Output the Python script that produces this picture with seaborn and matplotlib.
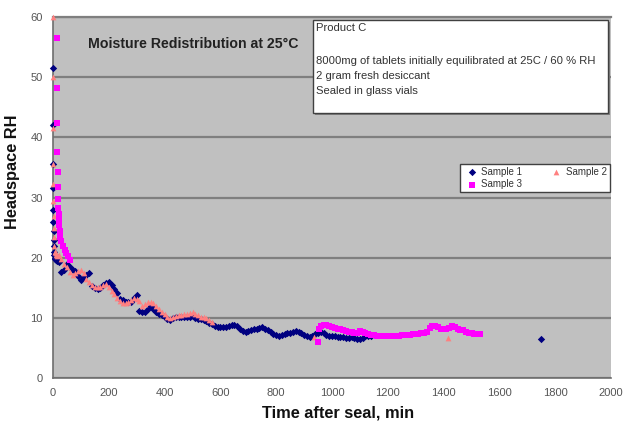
import matplotlib
matplotlib.use("Agg")
import matplotlib.pyplot as plt
import seaborn as sns
import pandas as pd
from matplotlib.patches import Rectangle

# ---------------- data ----------------
s1_t = [0, 0, 0, 0, 1, 1, 2, 2, 3, 4, 5, 6, 8, 10, 12, 15,
        20, 30, 40, 50, 60, 70, 80, 90, 100, 110, 120, 130, 140, 150, 160, 170, 180, 190,
        200, 210, 220, 230, 240, 250, 260, 270, 280, 290, 300, 310, 320, 330, 340, 350,
        360, 370, 380, 390, 400, 410, 420, 430, 440, 450, 460, 470, 480, 490, 500, 510,
        520, 530, 540, 550, 560, 570, 580, 590, 600, 610, 620, 630, 640, 650, 660, 670,
        680, 690, 700, 710, 720, 730, 740, 750, 760, 770, 780, 790, 800, 810, 820, 830,
        840, 850, 860, 870, 880, 890, 900, 910, 920, 930, 940, 950, 960, 970, 980, 990,
        1000, 1010, 1020, 1030, 1040, 1050, 1060, 1070, 1080, 1090, 1100, 1110, 1120,
        1130, 1140, 1750]
s1_rh = [51.5, 42.0, 35.5, 31.5, 28.0, 26.0, 24.5, 23.0, 22.0, 21.0, 20.5, 20.0, 19.8, 20.2, 19.6, 19.5,
         19.2, 17.7, 18.0, 19.0, 18.5, 18.0, 17.8, 17.0, 16.3, 16.8, 17.2, 17.4, 15.3, 14.9, 14.8, 15.0, 15.4, 15.8,
         15.9, 15.4, 14.8, 14.2, 13.2, 12.9, 12.7, 12.6, 12.7, 13.3, 13.8, 11.2, 11.0, 10.9, 11.4, 11.9,
         11.4, 10.9, 10.6, 10.4, 10.2, 9.8, 9.6, 9.9, 10.2, 10.2, 10.1, 10.1, 10.1, 10.2, 10.3, 10.0,
         9.8, 9.8, 9.7, 9.5, 9.2, 8.9, 8.7, 8.5, 8.5, 8.4, 8.4, 8.6, 8.8, 8.8, 8.6, 8.2,
         7.8, 7.6, 7.8, 8.0, 8.1, 8.2, 8.3, 8.4, 8.2, 7.9, 7.6, 7.3, 7.1, 7.0, 7.2, 7.3,
         7.4, 7.5, 7.7, 7.8, 7.7, 7.4, 7.2, 7.0, 6.8, 6.9, 7.3, 7.5, 7.6, 7.4, 7.2, 7.0,
         7.0, 6.9, 6.8, 6.8, 6.8, 6.7, 6.7, 6.8, 6.7, 6.5, 6.4, 6.7, 6.9,
         6.9, 7.0, 6.5]

s2_t = [0, 0, 0, 0, 1, 1, 2, 3, 4, 5, 6, 8, 10, 12, 15,
        20, 30, 40, 50, 60, 70, 80, 90, 100, 110, 120, 130, 140, 150, 160, 170, 180, 190,
        200, 210, 220, 230, 240, 250, 260, 270, 280, 290, 300, 310, 320, 330, 340, 350,
        360, 370, 380, 390, 400, 410, 420, 430, 440, 450, 460, 470, 480, 490, 500, 510,
        520, 530, 540, 550, 560, 570, 935, 1415]
s2_rh = [60.0, 50.0, 41.5, 35.5, 32.3, 29.5, 27.0, 25.0, 23.5, 22.0, 21.0, 21.0, 20.5, 20.8, 20.2,
         20.5, 19.8, 19.0, 18.5, 17.6, 17.2, 17.5, 17.8, 18.0, 17.4, 16.5, 16.0, 15.4, 15.2, 15.1, 15.2, 15.4, 15.6,
         15.2, 14.5, 14.0, 13.3, 12.8, 12.5, 12.4, 12.6, 13.0, 13.3, 13.2, 12.8, 12.0, 12.3, 12.6, 12.7,
         12.5, 12.0, 11.5, 11.0, 10.6, 10.2, 10.0, 10.2, 10.3, 10.4, 10.5, 10.6, 10.6, 10.8, 11.0, 10.7,
         10.4, 10.2, 10.1, 9.9, 9.6, 9.3, 6.8, 6.7]

s3_t = [13, 14, 15, 16, 17, 18, 18, 19, 20, 21, 22, 24, 26, 30, 36, 42, 48, 54, 62,
        950, 955, 960, 970, 980, 990, 1000, 1010, 1020, 1030, 1040, 1050, 1060, 1070, 1080,
        1090, 1100, 1110, 1120, 1130, 1140, 1150, 1160, 1170, 1180, 1190, 1200, 1210, 1220,
        1230, 1240, 1250, 1260, 1270, 1280, 1290, 1300, 1310, 1320, 1330, 1340, 1350, 1360,
        1370, 1380, 1390, 1400, 1410, 1420, 1430, 1440, 1450, 1460, 1470, 1480, 1490, 1500,
        1510, 1520, 1530]
s3_rh = [56.5, 48.2, 42.3, 37.5, 34.3, 31.7, 29.8, 28.3, 27.3, 26.3, 25.5, 24.5, 23.5, 22.8, 22.0, 21.3, 20.8, 20.3, 19.6,
         6.0, 8.2, 8.6, 8.8, 8.8, 8.6, 8.5, 8.3, 8.2, 8.2, 7.9, 7.8, 7.7, 7.6, 7.5,
         7.5, 7.8, 7.7, 7.4, 7.3, 7.2, 7.1, 7.0, 7.0, 7.0, 6.9, 6.9, 6.9, 6.9,
         6.9, 7.0, 7.2, 7.2, 7.1, 7.2, 7.3, 7.3, 7.3, 7.4, 7.4, 7.6, 8.3, 8.6,
         8.6, 8.5, 8.2, 8.2, 8.2, 8.3, 8.6, 8.5, 8.1, 7.9, 7.9, 7.7, 7.5, 7.4,
         7.3, 7.3, 7.3]

series_names = ["Sample 1", "Sample 2", "Sample 3"]
x_ticks = [0, 200, 400, 600, 800, 1000, 1200, 1400, 1600, 1800, 2000]
y_ticks = [0, 10, 20, 30, 40, 50, 60]
title_text = "Moisture Redistribution at 25°C"
note_lines = ["Product C", "8000mg of tablets initially equilibrated at 25C / 60 % RH",
              "2 gram fresh desiccant", "Sealed in glass vials"]

# ---------------- plot ----------------
sns.set_style("white")
plt.rcParams["font.family"] = ["Liberation Sans", "DejaVu Sans"]

W, H = 624, 425
fig = plt.figure(figsize=(W / 100, H / 100), dpi=100)
ax = fig.add_axes([53 / W, 1 - 378 / H, 558 / W, 361 / H])
ax.set_facecolor("#C0C0C0")

styles = [
    (s1_t, s1_rh, "#000080", "D", 14),
    (s2_t, s2_rh, "#FF8080", "^", 17),
    (s3_t, s3_rh, "#FF00FF", "s", 15),
]
for name, (tx, ry, col, mk, sz) in zip(series_names, styles):
    df = pd.DataFrame({"t": tx, "rh": ry})
    sns.scatterplot(data=df, x="t", y="rh", ax=ax, color=col, marker=mk, s=sz,
                    linewidth=0, label=name, zorder=3, clip_on=False)

ax.set_xlim(0, 2000)
ax.set_ylim(0, 60)
ax.set_xticks(x_ticks)
ax.set_yticks(y_ticks)
ax.yaxis.grid(True, color="#7F7F7F", linewidth=1.6)
ax.xaxis.grid(False)
ax.set_axisbelow(True)

ax.spines["right"].set_visible(False)
ax.spines["top"].set_color("#7F7F7F")
ax.spines["top"].set_linewidth(1.6)
for side in ["left", "bottom"]:
    ax.spines[side].set_color("#6E6E6E")
    ax.spines[side].set_linewidth(1.2)

ax.tick_params(axis="both", which="major", direction="out", length=4, width=1,
               color="#6E6E6E", labelsize=8, labelcolor="#555555")
ax.tick_params(axis="x", pad=3)

ax.set_xlabel("")
ax.set_ylabel("")
fig.text(338 / W, 1 - 413 / H, "Time after seal, min", ha="center", va="center",
         fontsize=11.8, fontweight="bold", color="#111111")
fig.text(13 / W, 1 - 172 / H, "Headspace RH", ha="center", va="center", rotation=90,
         fontsize=11.8, fontweight="bold", color="#111111")

ax.text(0.252, 0.925, title_text, transform=ax.transAxes, ha="center", va="center",
        fontsize=10.2, fontweight="bold", color="#222222")

# note box
x0, x1 = (313 - 53) / 558, (608 - 53) / 558
yb, yt = 1 - (113 - 17) / 361, 1 - (20 - 17) / 361
shadow = Rectangle((x0 + 0.004, yb - 0.006), x1 - x0, yt - yb, transform=ax.transAxes,
                   facecolor="#808080", edgecolor="none", zorder=4, clip_on=False)
box = Rectangle((x0, yb), x1 - x0, yt - yb, transform=ax.transAxes,
                facecolor="white", edgecolor="#404040", linewidth=1, zorder=5, clip_on=False)
ax.add_patch(shadow)
ax.add_patch(box)
for line, ypx in zip(note_lines, [28, 61, 76, 91]):
    fig.text(316 / W, 1 - ypx / H, line, ha="left", va="center",
             fontsize=8.1, color="#333333", zorder=6)

handles, labels = ax.get_legend_handles_labels()
order = [0, 2, 1]
lx0, lx1 = (460 - 53) / 558, (610 - 53) / 558
ly0, ly1 = 1 - (194 - 17) / 361, 1 - (162 - 17) / 361
leg = ax.legend([handles[i] for i in order], [labels[i] for i in order],
                ncol=2, loc="center", bbox_to_anchor=(lx0, ly0, lx1 - lx0, ly1 - ly0),
                mode="expand", fontsize=7, frameon=True, fancybox=False, framealpha=1,
                edgecolor="#404040", handletextpad=0.1, borderpad=0.3, labelspacing=0.3,
                handlelength=1.8, borderaxespad=0)
leg.get_frame().set_linewidth(1)
for t in leg.get_texts():
    t.set_color("#333333")

fig.savefig("out.png", dpi=100, facecolor="white")
